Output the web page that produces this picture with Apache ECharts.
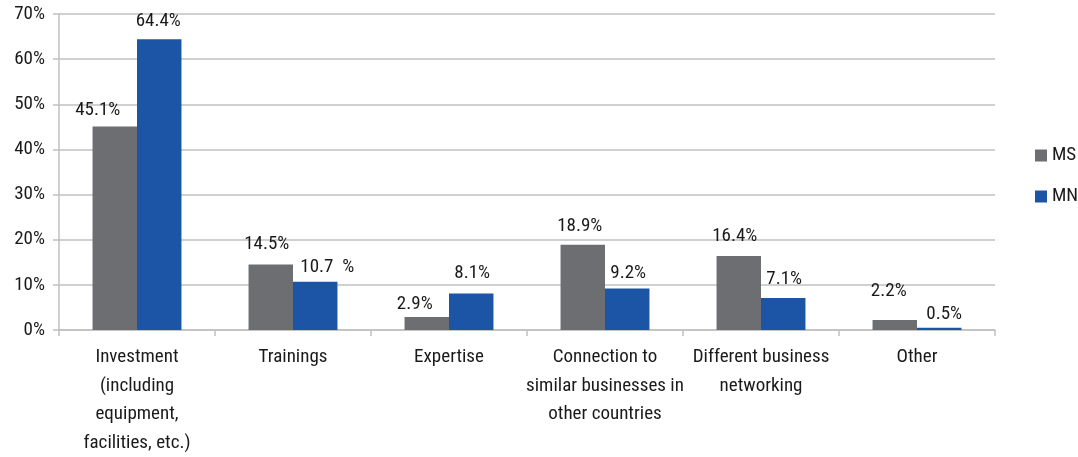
<!DOCTYPE html>
<html>
<head>
<meta charset="utf-8">
<script src="https://cdn.jsdelivr.net/npm/echarts@6/dist/echarts.min.js"></script>
<style>
  html, body { margin: 0; padding: 0; background: #ffffff; }
  #chart { width: 1078px; height: 457px; }
</style>
</head>
<body>
<div id="chart"></div>
<script>
// Forms of support, share of respondents (%)
const categories = [
  'Investment\n(including\nequipment,\nfacilities, etc.)',
  'Trainings',
  'Expertise',
  'Connection to\nsimilar businesses in\nother countries',
  'Different business\nnetworking',
  'Other'
];
const msValues = [45.1, 14.5, 2.9, 18.9, 16.4, 2.2];
const mnValues = [64.4, 10.7, 8.1, 9.2, 7.1, 0.5];
const msLabels = ['45.1%', '14.5%', '2.9%', '18.9%', '16.4%', '2.2%'];
const mnLabels = ['64.4%', '10.7  %', '8.1%', '9.2%', '7.1%', '0.5%'];
const yTicks = { min: 0, max: 70, interval: 10 };

// Hand-placed value labels: small nudges [dx, dy] from the default top position
const msLabelNudge = [[-17, 1], [-4, -3], [-12, 5], [-3, -1], [-4, -2], [-6, -11]];
const mnLabelNudge = [[-1, -1], [12, 3], [1, -3], [1, 2], [1, -1], [5, 4]];

const FONT = '"Roboto Condensed", "Liberation Sans Narrow", Roboto, sans-serif';
const FS = 19;
const TEXT = '#1a1a1a';
const AXIS = '#c0c0c0';

const chart = echarts.init(document.getElementById('chart'), null, { renderer: 'canvas' });

function barData(values, texts, nudges) {
  return values.map((v, i) => ({
    value: v,
    label: { formatter: texts[i], offset: nudges[i] }
  }));
}

const barLabel = {
  show: true,
  position: 'top',
  distance: 8,
  color: TEXT,
  fontFamily: FONT,
  fontSize: FS
};

chart.setOption({
  animation: false,
  textStyle: { fontFamily: FONT },
  grid: { left: 59, right: 83, top: 14, bottom: 126, containLabel: false },
  legend: {
    orient: 'vertical',
    left: 1030,
    top: 141,
    itemWidth: 12,
    itemHeight: 12,
    itemGap: 22,
    icon: 'rect',
    textStyle: { color: TEXT, fontFamily: FONT, fontSize: FS },
    data: ['MS', 'MN']
  },
  xAxis: {
    type: 'category',
    data: categories,
    axisLine: { show: true, lineStyle: { color: AXIS, width: 1.5 } },
    axisTick: { show: true, length: 6, alignWithLabel: false, lineStyle: { color: AXIS, width: 1.5 } },
    axisLabel: {
      interval: 0,
      color: TEXT,
      fontFamily: FONT,
      fontSize: FS,
      lineHeight: 28.5,
      margin: 13,
      align: 'center'
    },
    splitLine: { show: false }
  },
  yAxis: {
    type: 'value',
    min: yTicks.min,
    max: yTicks.max,
    interval: yTicks.interval,
    axisLine: { show: true, lineStyle: { color: AXIS, width: 1.5 } },
    axisTick: { show: true, length: 6, lineStyle: { color: AXIS, width: 1.5 } },
    axisLabel: {
      color: TEXT,
      fontFamily: FONT,
      fontSize: FS,
      margin: 14,
      formatter: v => v + '%'
    },
    splitLine: { show: true, lineStyle: { color: AXIS, width: 1.5 } }
  },
  series: [
    {
      name: 'MS',
      type: 'bar',
      data: barData(msValues, msLabels, msLabelNudge),
      barGap: '0%',
      barCategoryGap: '43%',
      itemStyle: { color: '#6d6e71' },
      label: barLabel
    },
    {
      name: 'MN',
      type: 'bar',
      data: barData(mnValues, mnLabels, mnLabelNudge),
      barGap: '0%',
      barCategoryGap: '43%',
      itemStyle: { color: '#1c55a5' },
      label: barLabel
    }
  ]
});
</script>
</body>
</html>
